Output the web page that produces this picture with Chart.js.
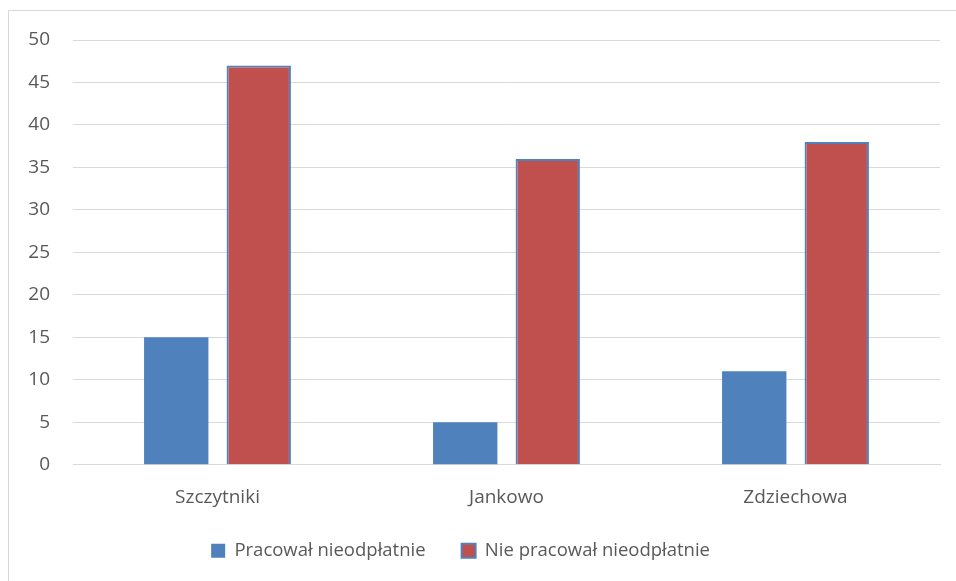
<!DOCTYPE html>
<html>
<head>
<meta charset="utf-8">
<script src="https://cdn.jsdelivr.net/npm/chart.js@4.4.1/dist/chart.umd.min.js"></script>
<style>
    html, body { margin: 0; padding: 0; background: #fff; }
    #ramka {
        position: absolute; left: 8px; top: 10px; width: 960px; height: 600px;
        border: 1px solid #d9d9d9; box-sizing: border-box;
    }
    #pojemnik { position: absolute; left: 0; top: 0; width: 956px; height: 581px; }
</style>
</head>
<body>
<div id="ramka"></div>
<div id="pojemnik"><canvas id="wykres"></canvas></div>
<script>
// Dane wykresu
const miejscowosci = ['Szczytniki', 'Jankowo', 'Zdziechowa'];
const pracowal = [15, 5, 11];
const niePracowal = [47, 36, 38];
const etykietySerii = ['Pracował nieodpłatnie', 'Nie pracował nieodpłatnie'];

// Kolory
const KOLORY = {
    niebieski: '#4F81BD',
    czerwony: '#C0504D',
    siatka: '#d9d9d9',
    tekst: '#595959'
};

const CZCIONKA = "'Open Sans', 'Liberation Sans', sans-serif";

// Odstępy w legendzie (spacje na końcu etykiet, żeby rozsunąć elementy jak w oryginale)
const odstepyLegendy = ['     ', '      '];

const ctx = document.getElementById('wykres').getContext('2d');

new Chart(ctx, {
    type: 'bar',
    data: {
        labels: miejscowosci,
        datasets: [
            {
                label: etykietySerii[0],
                data: pracowal,
                backgroundColor: KOLORY.niebieski,
                borderWidth: 0
            },
            {
                label: etykietySerii[1],
                data: niePracowal,
                backgroundColor: KOLORY.czerwony,
                borderColor: KOLORY.niebieski,
                borderWidth: 2
            }
        ]
    },
    options: {
        responsive: true,
        maintainAspectRatio: false,
        animation: false,
        categoryPercentage: 0.571,
        barPercentage: 0.78,
        layout: {
            padding: { left: 10, right: 16, top: 40, bottom: 11 }
        },
        plugins: {
            tooltip: { enabled: false },
            legend: {
                display: true,
                position: 'bottom',
                labels: {
                    boxWidth: 14,
                    boxHeight: 14,
                    padding: 12,
                    color: KOLORY.tekst,
                    font: { family: CZCIONKA, size: 18.5 },
                    generateLabels: function(chart) {
                        const elementy = Chart.defaults.plugins.legend.labels.generateLabels(chart);
                        elementy.forEach((el, i) => { el.text = el.text + odstepyLegendy[i]; });
                        return elementy;
                    }
                }
            }
        },
        scales: {
            x: {
                grid: { display: false, drawTicks: false },
                border: { color: KOLORY.siatka, width: 1 },
                ticks: {
                    color: KOLORY.tekst,
                    padding: 21,
                    font: { family: CZCIONKA, size: 19 }
                }
            },
            y: {
                min: 0,
                max: 50,
                afterFit: function(skala) { skala.width = 63; },
                grid: { color: KOLORY.siatka, drawTicks: false },
                border: { display: false },
                ticks: {
                    stepSize: 5,
                    color: KOLORY.tekst,
                    padding: 23,
                    font: { family: CZCIONKA, size: 19 }
                }
            }
        }
    }
});
</script>
</body>
</html>
